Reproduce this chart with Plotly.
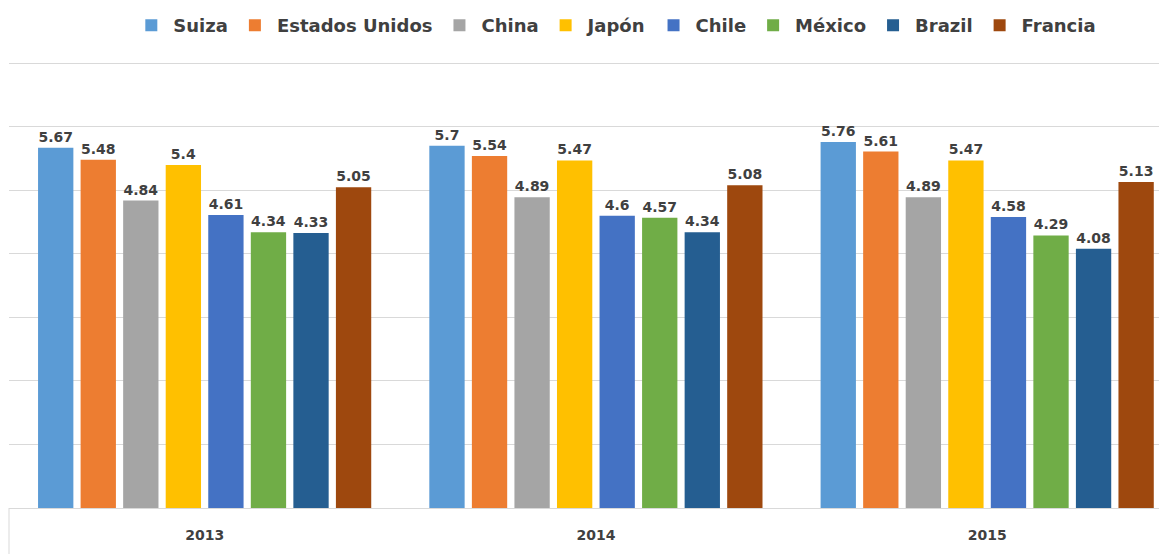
import plotly.graph_objects as go

anios = ['2013', '2014', '2015']

paises = ['Suiza', 'Estados Unidos', 'China', 'Japón', 'Chile', 'México', 'Brazil', 'Francia']

suiza = [5.67, 5.7, 5.76]
estados_unidos = [5.48, 5.54, 5.61]
china = [4.84, 4.89, 4.89]
japon = [5.4, 5.47, 5.47]
chile = [4.61, 4.6, 4.58]
mexico = [4.34, 4.57, 4.29]
brazil = [4.33, 4.34, 4.08]
francia = [5.05, 5.08, 5.13]

valores = [suiza, estados_unidos, china, japon, chile, mexico, brazil, francia]
colores = ['#5B9BD5', '#ED7D31', '#A5A5A5', '#FFC000', '#4472C4', '#70AD47', '#255E91', '#9E480E']

fig = go.Figure()
for pais, vals, color in zip(paises, valores, colores):
    fig.add_trace(go.Bar(
        name=pais,
        x=anios,
        y=vals,
        marker=dict(color=color, line=dict(width=0)),
        text=[f'{v:g}' for v in vals],
        textposition='outside',
        cliponaxis=False,
        textfont=dict(family='DejaVu Sans', size=14, color='#404040', weight='bold'),
    ))

# the page body adds an 8px offset, margins below compensate for it
fig.update_layout(
    width=1167,
    height=554,
    margin=dict(l=1, r=0, t=54, b=54, autoexpand=False),
    paper_bgcolor='white',
    plot_bgcolor='white',
    barmode='group',
    bargap=0.13,
    bargroupgap=0.17,
    showlegend=True,
    legend=dict(
        orientation='h',
        x=0.52, xanchor='center',
        y=1.082, yanchor='middle',
        font=dict(family='DejaVu Sans', size=18, color='#404040', weight='bold'),
        itemwidth=34,
        traceorder='normal',
    ),
    xaxis=dict(
        type='category',
        range=[-0.5, 2.48],
        showgrid=False,
        showline=True,
        linecolor='#D9D9D9',
        linewidth=1,
        ticks='',
        ticklabelstandoff=14,
        tickfont=dict(family='DejaVu Sans', size=14, color='#404040', weight='bold'),
    ),
    yaxis=dict(
        range=[0, 7.02],
        dtick=1,
        showgrid=True,
        gridcolor='#D9D9D9',
        gridwidth=1,
        showticklabels=False,
        zeroline=False,
        showline=False,
    ),
)

fig.add_shape(type='line', xref='paper', yref='paper', x0=0, x1=0, y0=0, y1=-46 / 446,
              line=dict(color='#D9D9D9', width=1))

fig.write_html('out.html')
